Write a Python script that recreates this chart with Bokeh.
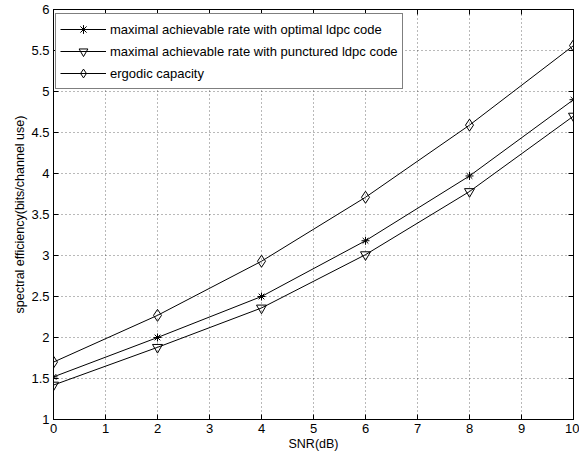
from bokeh.plotting import figure
from bokeh.models import FixedTicker, LinearAxis, Range1d, Legend, LegendItem
from bokeh.embed import file_html
from bokeh.resources import INLINE

snr = [0, 2, 4, 6, 8, 10]
optimal = [1.52, 2.00, 2.50, 3.18, 3.97, 4.90]
punctured = [1.42, 1.88, 2.36, 3.01, 3.78, 4.70]
capacity = [1.70, 2.27, 2.93, 3.71, 4.59, 5.56]

x_ticks = [0, 1, 2, 3, 4, 5, 6, 7, 8, 9, 10]
y_ticks = [1, 1.5, 2, 2.5, 3, 3.5, 4, 4.5, 5, 5.5, 6]
y_tick_labels = ["1", "1.5", "2", "2.5", "3", "3.5", "4", "4.5", "5", "5.5", "6"]

FONT = "Liberation Sans"

p = figure(width=579, height=459, output_backend="svg", toolbar_location=None,
           x_range=Range1d(0, 10), y_range=Range1d(1, 6),
           min_border_left=53, min_border_right=6, min_border_top=9, min_border_bottom=40,
           x_axis_label="SNR(dB)", y_axis_label="spectral efficiency(bits/channel use)")

p.outline_line_color = "black"
p.outline_line_width = 1
p.background_fill_color = "white"
p.border_fill_color = "white"

for ax, ticks in ((p.xaxis[0], x_ticks), (p.yaxis[0], y_ticks)):
    ax.ticker = FixedTicker(ticks=ticks)
    ax.major_tick_in = 5
    ax.major_tick_out = 0
    ax.minor_tick_line_color = None
    ax.axis_line_color = "black"
    ax.major_label_text_font = FONT
    ax.major_label_text_font_size = "13px"
    ax.major_label_text_color = "black"
    ax.axis_label_text_font = FONT
    ax.axis_label_text_font_size = "12.5px"
    ax.axis_label_text_font_style = "normal"
    ax.axis_label_text_color = "black"
    ax.major_label_standoff = 4
    ax.axis_label_standoff = 1
p.yaxis[0].major_label_overrides = {t: l for t, l in zip(y_ticks, y_tick_labels)}

for loc, ticks in (("above", x_ticks), ("right", y_ticks)):
    ax = LinearAxis(ticker=FixedTicker(ticks=ticks), major_tick_in=5, major_tick_out=0,
                    minor_tick_line_color=None, major_label_text_font_size="1px",
                    major_label_text_color=None, major_label_standoff=0,
                    axis_line_color="black")
    p.add_layout(ax, loc)

p.grid.grid_line_color = "black"
p.grid.grid_line_alpha = 0.55
p.grid.grid_line_dash = "1 3"
p.xgrid.ticker = FixedTicker(ticks=x_ticks)
p.ygrid.ticker = FixedTicker(ticks=y_ticks)

l1 = p.line(snr, optimal, line_color="black", line_width=1)
m1 = p.scatter(snr, optimal, marker="asterisk", size=8, line_color="black", line_width=1)
l2 = p.line(snr, punctured, line_color="black", line_width=1)
m2 = p.scatter(snr, punctured, marker="inverted_triangle", size=10, line_color="black",
               fill_color="white", fill_alpha=0, line_width=1)
l3 = p.line(snr, capacity, line_color="black", line_width=1)
m3 = p.scatter(snr, capacity, marker="diamond", size=12, line_color="black",
               fill_color="white", fill_alpha=0, line_width=1)

legend = Legend(items=[
    LegendItem(label="maximal achievable rate with optimal ldpc code", renderers=[l1, m1]),
    LegendItem(label="maximal achievable rate with punctured ldpc code", renderers=[l2, m2]),
    LegendItem(label="ergodic capacity", renderers=[l3, m3]),
], location=(2, 330))
legend.border_line_color = "black"
legend.border_line_width = 1
legend.background_fill_color = "white"
legend.background_fill_alpha = 1
legend.padding = 4
legend.spacing = 0
legend.margin = 0
legend.label_height = 22
legend.glyph_height = 22
legend.glyph_width = 46
legend.label_standoff = 4
legend.label_text_font = FONT
legend.label_text_font_size = "13px"
legend.label_text_color = "black"
p.add_layout(legend)

open("out.html", "w").write(file_html(p, INLINE))
